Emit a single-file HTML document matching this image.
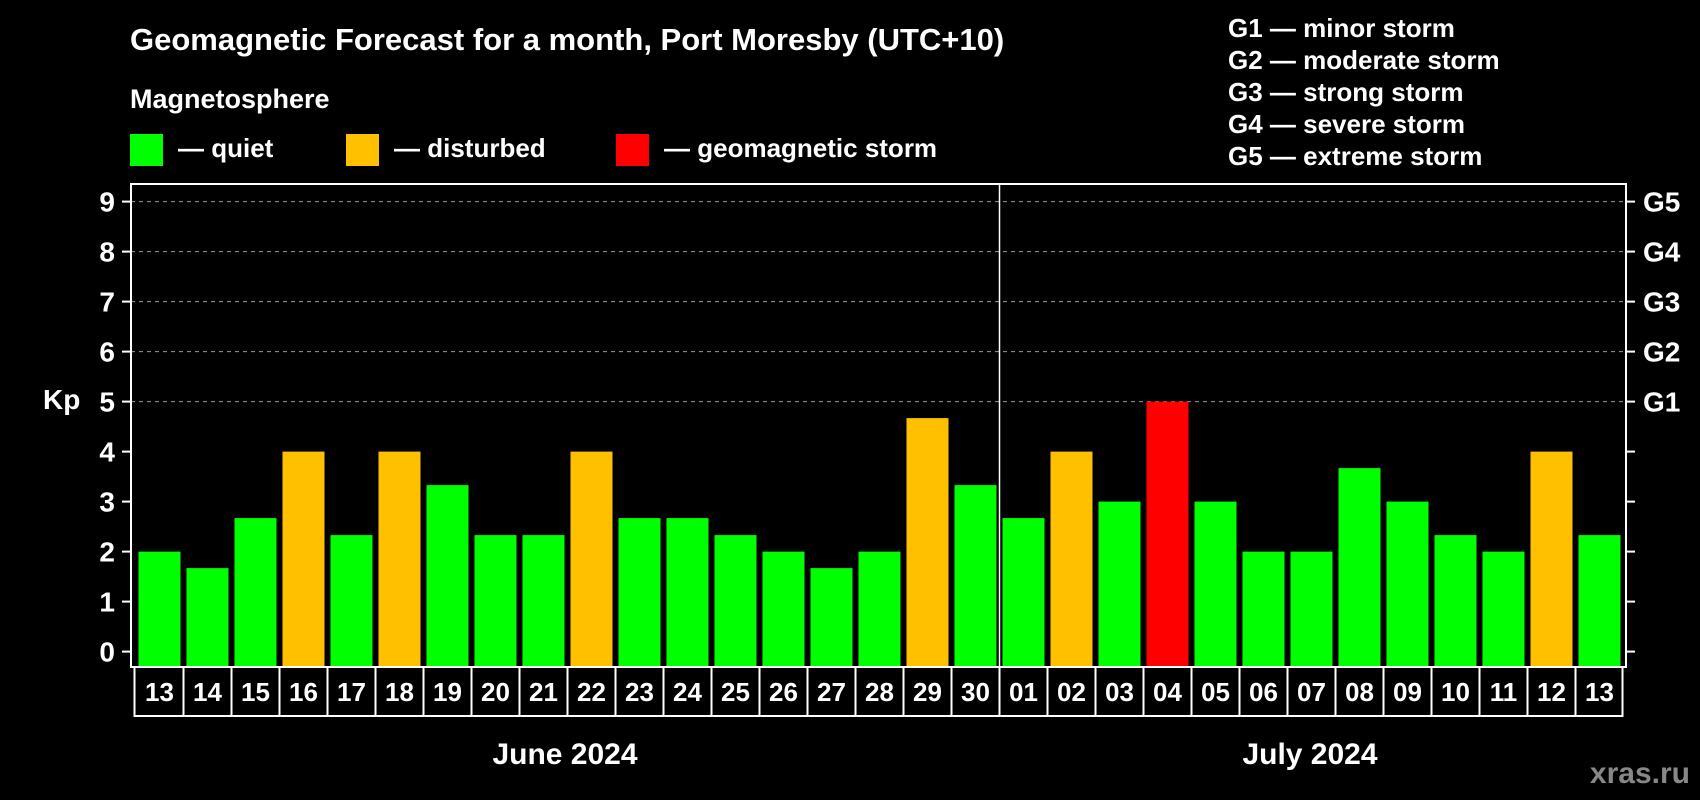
<!DOCTYPE html>
<html><head><meta charset="utf-8"><style>
html,body{margin:0;padding:0;background:#000;}
svg{display:block;font-family:"Liberation Sans",Arial,sans-serif;font-weight:bold;}
</style></head><body>
<svg id="chart" width="1700" height="800" viewBox="0 0 1700 800">
<rect width="1700" height="800" fill="#000"/>
<text x="130" y="50" font-size="31" fill="#fff">Geomagnetic Forecast for a month, Port Moresby (UTC+10)</text>
<text x="130" y="108" font-size="27" fill="#fff">Magnetosphere</text>
<g><rect x="130" y="134" width="33" height="32" fill="#00ff00"/><text x="178" y="157" font-size="26" fill="#fff">— quiet</text></g>
<g><rect x="346" y="134" width="33" height="32" fill="#ffc000"/><text x="394" y="157" font-size="26" fill="#fff">— disturbed</text></g>
<g><rect x="616" y="134" width="33" height="32" fill="#ff0000"/><text x="664" y="157" font-size="26" fill="#fff">— geomagnetic storm</text></g>
<g font-size="26" fill="#fff">
<text x="1228" y="37">G1 — minor storm</text>
<text x="1228" y="69">G2 — moderate storm</text>
<text x="1228" y="101">G3 — strong storm</text>
<text x="1228" y="133">G4 — severe storm</text>
<text x="1228" y="165">G5 — extreme storm</text>
</g>
<text x="43" y="409" font-size="28" fill="#fff">Kp</text>
<g id="grid"></g><g id="bars"></g><g id="axes"></g><g id="dates"></g>
<text x="565" y="764" font-size="30" fill="#fff" text-anchor="middle">June 2024</text>
<text x="1310" y="764" font-size="30" fill="#fff" text-anchor="middle">July 2024</text>
<text x="1690" y="783" font-size="30" fill="#888" text-anchor="end">xras.ru</text>
</svg>
<script>
const days = ["13","14","15","16","17","18","19","20","21","22","23","24","25","26","27","28","29","30","01","02","03","04","05","06","07","08","09","10","11","12","13"];
const kpValues = [2,1.67,2.67,4,2.33,4,3.33,2.33,2.33,4,2.67,2.67,2.33,2,1.67,2,4.67,3.33,2.67,4,3,5,3,2,2,3.67,3,2.33,2,4,2.33];
const yTicks = [0,1,2,3,4,5,6,7,8,9];
const gLabels = ["","","","","","G1","G2","G3","G4","G5"];
const NS="http://www.w3.org/2000/svg";
const L=131,R=1626,T=184,B=667,Y0=651.6,UNIT=50,STEP=48,X0=138.5,BW=42;
const y=v=>Y0-v*UNIT;
const x=i=>X0+i*STEP;
function mk(tag,attrs,parent){const e=document.createElementNS(NS,tag);for(const k in attrs)e.setAttribute(k,attrs[k]);parent.appendChild(e);return e;}
const grid=document.getElementById('grid'),bars=document.getElementById('bars'),axes=document.getElementById('axes'),dates=document.getElementById('dates');
yTicks.forEach((t,i)=>{
  if(t>=5){const g=mk('line',{x1:L,x2:R,y1:y(t),y2:y(t),stroke:'#999','stroke-width':1,'stroke-dasharray':'4,4'},grid);
  
  }
  const tl=mk('line',{x1:L-9,x2:L,y1:y(t),y2:y(t),stroke:'#fff','stroke-width':2},axes);
  
  
  const tr=mk('line',{x1:R,x2:R+9,y1:y(t),y2:y(t),stroke:'#fff','stroke-width':2},axes);
  
  
  const lb=mk('text',{x:115,y:y(t)+10,'font-size':28,fill:'#fff','text-anchor':'end'},axes);
  lb.textContent=t;
  
  
  if(gLabels[i]){const gl=mk('text',{x:1643,y:y(t)+10,'font-size':28,fill:'#fff'},axes);
  gl.textContent=gLabels[i];
  
  }
});
kpValues.forEach((v,i)=>{
  const c=v>=5?'#ff0000':(v>=4?'#ffc000':'#00ff00');
  const b=mk('rect',{x:x(i),y:y(v),width:BW,height:B-y(v),fill:c},bars);
  
  
});
const fr=mk('rect',{x:L,y:T,width:R-L,height:B-T,fill:'none',stroke:'#fff','stroke-width':2},axes);


const sep=mk('line',{x1:x(18)-3,x2:x(18)-3,y1:T,y2:B,stroke:'#fff','stroke-width':1.5},axes);


const db=mk('rect',{x:x(0)-4,y:B,width:days.length*STEP,height:49,fill:'none',stroke:'#fff','stroke-width':2},dates);


days.forEach((d,i)=>{
  if(i>0){const s=mk('line',{x1:x(i)-3,x2:x(i)-3,y1:B,y2:B+49,stroke:'#fff','stroke-width':2},dates);
  
  }
  const t=mk('text',{x:x(i)+BW/2,y:701,'font-size':26,fill:'#fff','text-anchor':'middle'},dates);
  t.textContent=d;
  
  
});
</script>
</body></html>
